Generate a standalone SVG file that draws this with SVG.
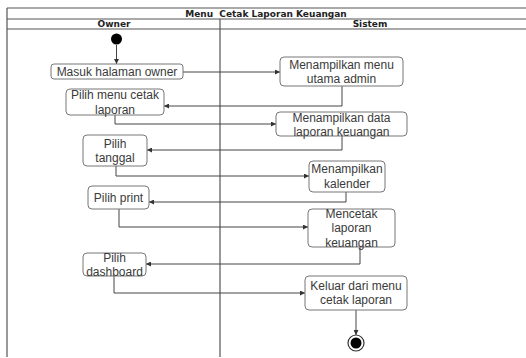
<svg xmlns="http://www.w3.org/2000/svg" width="526" height="358" viewBox="0 0 526 358">
  <style>
    .frame { stroke: #555; stroke-width: 1.2; fill: none; }
    .hdr { font-family: "DejaVu Sans", sans-serif; font-size: 9px; font-weight: bold; fill: #222; text-anchor: middle; }
    .box { fill: #fff; stroke: #777; stroke-width: 1; }
    .lbl { font-family: "Liberation Sans", Arial, sans-serif; font-size: 12px; fill: #3a3a3a; text-anchor: middle; }
    .edge { stroke: #444; stroke-width: 1; fill: none; marker-end: url(#arr); }
  </style>
  <defs>
    <marker id="arr" viewBox="0 0 6 6" refX="6" refY="3" markerWidth="5" markerHeight="5" orient="auto" markerUnits="userSpaceOnUse">
      <path d="M0,0 L6,3 L0,6 Z" fill="#333"/>
    </marker>
  </defs>
  <rect width="526" height="358" fill="#fff"/>

  <!-- swimlane frame -->
  <g id="swimlanes">
    <line class="frame" x1="7" y1="8" x2="526" y2="8"/>
    <line class="frame" x1="7" y1="19" x2="526" y2="19"/>
    <line class="frame" x1="7" y1="29" x2="526" y2="29"/>
    <line class="frame" x1="7" y1="8" x2="7" y2="357"/>
    <line class="frame" x1="220" y1="19" x2="220" y2="357"/>
    <text class="hdr" x="266" y="17" xml:space="preserve">Menu  Cetak Laporan Keuangan</text>
    <text class="hdr" x="114" y="27">Owner</text>
    <text class="hdr" x="370" y="27">Sistem</text>
  </g>

  <!-- connectors -->
  <g id="connectors">
    <path class="edge" d="M116.5,45 V64"/>
    <path class="edge" d="M183,72 H280"/>
    <path class="edge" d="M342,86 V106 H164"/>
    <path class="edge" d="M115,115 V124 H276"/>
    <path class="edge" d="M342,136 V150 H147"/>
    <path class="edge" d="M116,166 V176 H309"/>
    <path class="edge" d="M346,192 V202 H149"/>
    <path class="edge" d="M119,209 V227 H308"/>
    <path class="edge" d="M360,247 V264 H146"/>
    <path class="edge" d="M114,276 V293 H305"/>
    <path class="edge" d="M356,310 V335"/>
  </g>

  <g id="start">
    <circle cx="116.5" cy="39" r="5.5" fill="#000"/>
  </g>

  <g id="masuk-halaman-owner">
    <rect class="box" x="51" y="64" width="132" height="15" rx="3"/>
    <text class="lbl" x="117" y="76">Masuk halaman owner</text>
  </g>

  <g id="menampilkan-menu-utama">
    <rect class="box" x="280" y="57" width="123" height="29" rx="4"/>
    <text class="lbl" x="341.5" y="69">Menampilkan menu</text>
    <text class="lbl" x="341.5" y="83">utama admin</text>
  </g>

  <g id="pilih-menu-cetak">
    <rect class="box" x="66" y="89" width="98" height="26" rx="4"/>
    <text class="lbl" x="115" y="99">Pilih menu cetak</text>
    <text class="lbl" x="115" y="114">laporan</text>
  </g>

  <g id="menampilkan-data-laporan">
    <rect class="box" x="276" y="112" width="131" height="24" rx="4"/>
    <text class="lbl" x="341.5" y="122">Menampilkan data</text>
    <text class="lbl" x="341.5" y="136">laporan keuangan</text>
  </g>

  <g id="pilih-tanggal">
    <rect class="box" x="83" y="135" width="64" height="31" rx="4"/>
    <text class="lbl" x="115" y="148">Pilih</text>
    <text class="lbl" x="115" y="162">tanggal</text>
  </g>

  <g id="menampilkan-kalender">
    <rect class="box" x="309" y="161" width="76" height="31" rx="4"/>
    <text class="lbl" x="347" y="173">Menampilkan</text>
    <text class="lbl" x="347" y="188">kalender</text>
  </g>

  <g id="pilih-print">
    <rect class="box" x="88" y="186" width="61" height="23" rx="4"/>
    <text class="lbl" x="118.5" y="202">Pilih print</text>
  </g>

  <g id="mencetak-laporan">
    <rect class="box" x="308" y="209" width="87" height="38" rx="4"/>
    <text class="lbl" x="351.5" y="218">Mencetak</text>
    <text class="lbl" x="351.5" y="232">laporan</text>
    <text class="lbl" x="351.5" y="247">keuangan</text>
  </g>

  <g id="pilih-dashboard">
    <rect class="box" x="83" y="253" width="63" height="23" rx="4"/>
    <text class="lbl" x="114.5" y="262">Pilih</text>
    <text class="lbl" x="114.5" y="276">dashboard</text>
  </g>

  <g id="keluar-menu">
    <rect class="box" x="305" y="276" width="102" height="34" rx="4"/>
    <text class="lbl" x="356" y="290">Keluar dari menu</text>
    <text class="lbl" x="356" y="304">cetak laporan</text>
  </g>

  <g id="end">
    <circle cx="356" cy="343" r="8" fill="#fff" stroke="#333" stroke-width="1.2"/>
    <circle cx="356" cy="343" r="5.5" fill="#000"/>
  </g>
</svg>
